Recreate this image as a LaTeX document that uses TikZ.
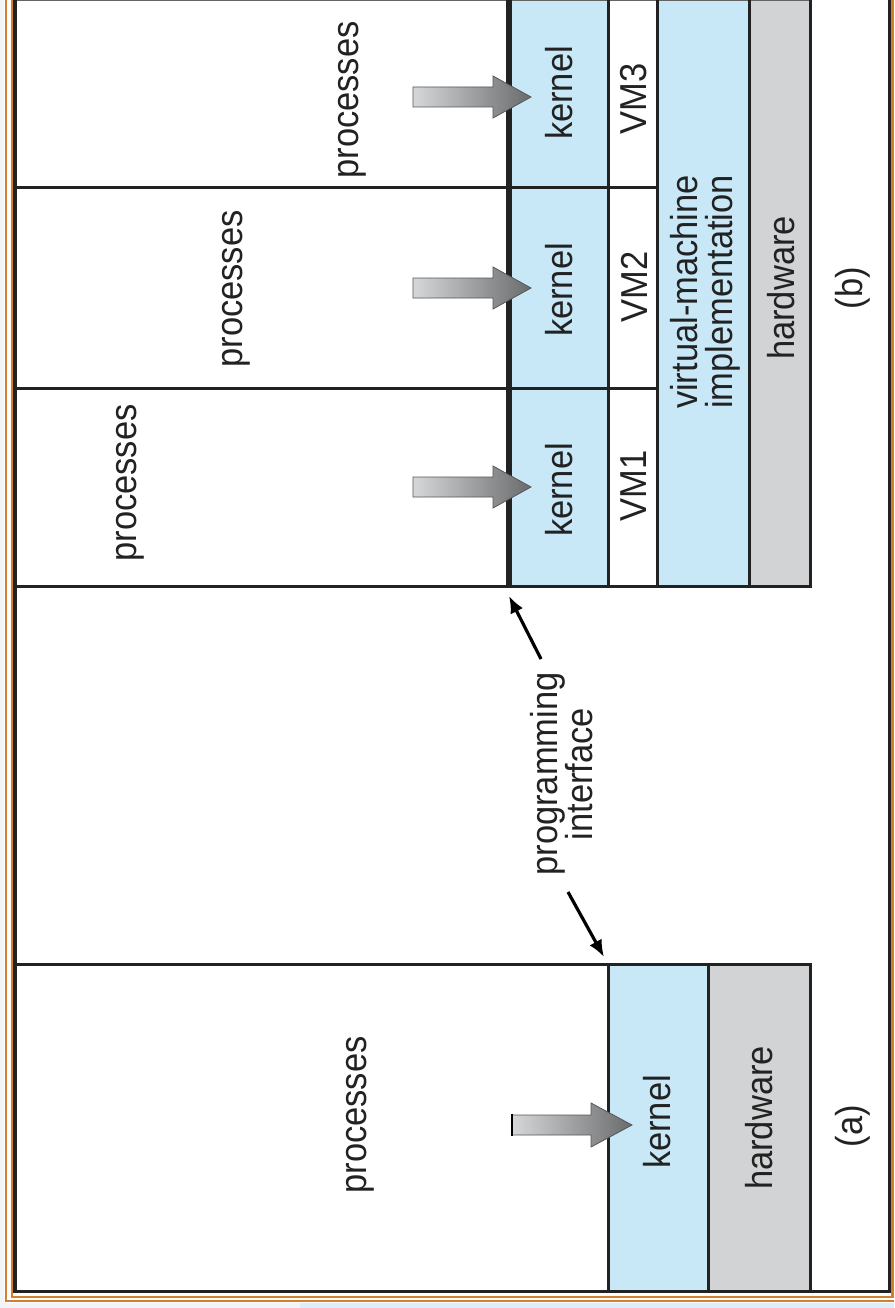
\documentclass[tikz,border=0pt]{standalone}
\usepackage{fontspec}
\usetikzlibrary{arrows.meta}
\setmainfont{Liberation Sans}[FakeStretch=0.92]
\definecolor{kblue}{HTML}{C8E8F8}
\definecolor{hgray}{HTML}{D1D3D4}
\definecolor{frameor}{HTML}{D2802E}
\definecolor{bgl}{HTML}{F2F5F8}
\definecolor{bgb}{HTML}{DCEEF9}
\definecolor{ink}{HTML}{222222}
\definecolor{arrlight}{HTML}{D6D7D8}
\definecolor{arrdark}{HTML}{6A6B6D}
\begin{document}
\begin{tikzpicture}[x=1pt,y=-1pt,
  lbl/.style={rotate=90,font=\fontsize{37.5}{40}\selectfont,text=ink,inner sep=0pt},
  lbltwo/.style={lbl,align=center,font=\fontsize{37.5}{35}\selectfont},
  boxline/.style={draw=ink,line width=3pt},
  orline/.style={draw=frameor,line width=2.5pt},
  pia/.style={draw=black,line width=3.2pt,-{Latex[length=17pt,width=14pt]}},
  blockarrow/.style={left color=arrlight,right color=arrdark,draw=arrdark!80!black,line width=0.8pt}
]
\useasboundingbox (0,0) rectangle (894,1308);
% background
\fill[bgl] (0,0) rectangle (894,1308);
\fill[bgb] (300,1303) rectangle (894,1308);
\fill[white] (4,0) rectangle (894,1303);
% orange frame
\draw[orline] (6,0) -- (6,1301) -- (894,1301);
\draw[orline] (12,0) -- (12,1297) -- (892.5,1297) -- (892.5,0);
% (a)
\fill[kblue] (608,964) rectangle (708,1291);
\fill[hgray] (708,964) rectangle (810,1291);
\draw[boxline] (15,964) -- (810,964) -- (810,1291);
\draw[boxline] (608,964) -- (608,1291);
\draw[boxline] (708,964) -- (708,1291);
% (b)
\fill[kblue] (509,0) rectangle (608,586);
\fill[kblue] (657,0) rectangle (749,586);
\fill[hgray] (749,0) rectangle (810,586);
\draw[draw=ink!70,line width=1.5pt] (15,0.5) -- (810,0.5);
\draw[boxline] (15,586) -- (810,586) -- (810,0);
\foreach \yy in {188,388} \draw[boxline] (15,\yy) -- (657,\yy);
\foreach \xx in {608,657,749} \draw[boxline] (\xx,0) -- (\xx,586);
\draw[draw=ink,line width=6.5pt] (509,0) -- (509,586);
% black frame
\draw[draw=ink,line width=3.5pt] (15,0) -- (15,1291.5) -- (889.5,1291.5) -- (889.5,0);
% block arrows (b)
\foreach \cy/\n in {97/3,288/2,487/1} {
  \shade[blockarrow] (413,\cy-10) -- (493,\cy-10) -- (493,\cy-21) -- (531,\cy) -- (493,\cy+21) -- (493,\cy+10) -- (413,\cy+10) -- cycle;
}
% block arrow (a)
\shade[blockarrow] (512,1115) -- (591,1115) -- (591,1103) -- (632,1125) -- (591,1147) -- (591,1135) -- (512,1135) -- cycle;
\draw[draw=black,line width=2.5pt] (512,1114) -- (512,1136);
% labels (a)
\node[lbl] (pa) at (360,1115) {processes};
\node[lbl] (ka) at (657,1122) {kernel};
\node[lbl] (ha) at (759,1118) {hardware};
\node[lbl] (capa) at (853,1126) {(a)};
% labels (b)
\node[lbl] (p1) at (130,483) {processes};
\node[lbl] (p2) at (236,289) {processes};
\node[lbl] (p3) at (352,100) {processes};
\node[lbl] (k1) at (559,490) {kernel};
\node[lbl] (k2) at (559,290) {kernel};
\node[lbl] (k3) at (559,93) {kernel};
\node[lbl] (v1) at (634,486) {VM1};
\node[lbl] (v2) at (634,287) {VM2};
\node[lbl] (v3) at (634,99) {VM3};
\node[lbltwo] (vmm) at (705,292) {virtual-machine\\implementation};
\node[lbl] (hb) at (781,288) {hardware};
\node[lbl] (capb) at (853,288) {(b)};
% programming interface
\node[lbltwo] (pi) at (562,774) {programming\\interface};
\coordinate (tipb) at (509,596);
\coordinate (tipa) at (604,957);
\draw[pia] (541,659) -- (tipb);
\draw[pia] (568,892) -- (tipa);
\end{tikzpicture}
\end{document}
